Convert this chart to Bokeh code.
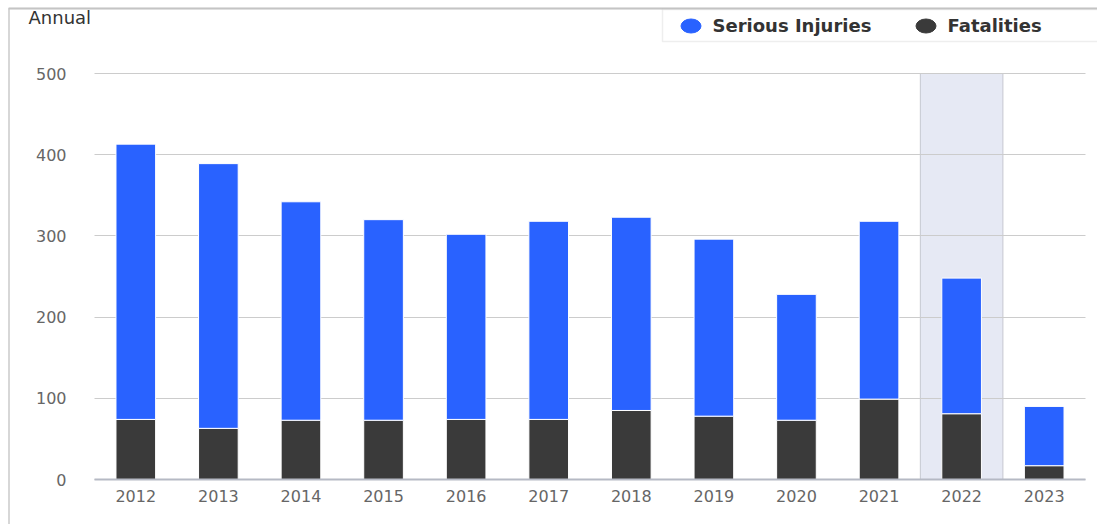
from bokeh.plotting import figure
from bokeh.models import (Range1d, Legend, LegendItem, BoxAnnotation, Label, ColumnDataSource,
                          LinearAxis, FixedTicker, Grid)
from bokeh.embed import file_html
from bokeh.resources import INLINE

years = ["2012", "2013", "2014", "2015", "2016", "2017", "2018", "2019", "2020", "2021", "2022", "2023"]
fatalities = [74, 63, 73, 73, 74, 74, 85, 78, 73, 99, 81, 17]
serious_injuries = [339, 326, 269, 247, 228, 244, 238, 218, 155, 219, 167, 73]
highlight_year = "2022"
y_max = 500
y_ticks = [0, 100, 200, 300, 400, 500]

BLUE = "#2962ff"
DARK = "#3a3a3a"
FONT = "DejaVu Sans"

W, H = 1097, 524
PL, PR, PT, PB = 94, 1085, 73, 479          # plot area in canvas pixels
n = len(years)
px_per_cat = (PR - PL) / n
px_per_unit = (PB - PT) / y_max
x_range = Range1d(-PL / px_per_cat, n + (W - PR) / px_per_cat)
y_range = Range1d(-(H - PB) / px_per_unit, y_max + PT / px_per_unit)

p = figure(x_range=x_range, y_range=y_range, frame_width=W, frame_height=H,
           min_border=0, x_axis_location=None, y_axis_location=None,
           output_backend="svg", toolbar_location=None, outline_line_color=None)
p.xgrid.visible = False
p.ygrid.visible = False

xpos = [i + 0.5 for i in range(n)]

# highlight band
hi = years.index(highlight_year)
p.vbar(x=[xpos[hi]], top=[y_max], bottom=0, width=1.0,
       fill_color="#e6e9f4", line_color="#c6c8d0", line_width=1, level="image")

src = ColumnDataSource(dict(x=xpos, year=years, Fatalities=fatalities, Serious=serious_injuries))
p.vbar_stack(["Fatalities", "Serious"], x="x", width=0.48, source=src,
             color=[DARK, BLUE], line_color="white", line_width=1)

grid = Grid(dimension=1, ticker=FixedTicker(ticks=y_ticks), cross_bounds=(0, n),
            grid_line_color="#cccccc", grid_line_width=1)
p.add_layout(grid, "center")

yaxis = LinearAxis(fixed_location=0, ticker=FixedTicker(ticks=y_ticks),
                   axis_line_color=None, major_tick_line_color=None, minor_tick_line_color=None,
                   major_tick_in=0, major_tick_out=0, major_label_standoff=28,
                   major_label_text_font=FONT, major_label_text_font_size="16px",
                   major_label_text_color="#666666")
p.add_layout(yaxis, "left")

xaxis = LinearAxis(fixed_location=0, ticker=FixedTicker(ticks=xpos), bounds=(0, n),
                   major_label_overrides={x: y for x, y in zip(xpos, years)},
                   axis_line_color="#b5b9c4", axis_line_width=2,
                   major_tick_line_color=None, minor_tick_line_color=None,
                   major_tick_in=0, major_tick_out=0, major_label_standoff=10,
                   major_label_text_font=FONT, major_label_text_font_size="16px",
                   major_label_text_color="#666666")
p.add_layout(xaxis, "below")

# outer border (screen units relative to frame bottom-left)
p.add_layout(BoxAnnotation(left=8.5, right=W + 50, top=H - 8, bottom=-50,
                           left_units="screen", right_units="screen",
                           top_units="screen", bottom_units="screen",
                           fill_alpha=0, line_color="#7a7a7a", line_width=2))
# legend box
p.add_layout(BoxAnnotation(left=662, right=W + 50, top=H - 9, bottom=H - 41,
                           left_units="screen", right_units="screen",
                           top_units="screen", bottom_units="screen",
                           fill_color="white", fill_alpha=1, line_color="#c8c8c8", line_width=1.5))
# re-draw top border line over legend box
p.add_layout(BoxAnnotation(left=8, right=W + 50, top=H - 8, bottom=H - 8,
                           left_units="screen", right_units="screen",
                           top_units="screen", bottom_units="screen",
                           fill_alpha=0, line_color="#999999", line_width=2))

p.add_layout(Label(x=28, y=H - 17, x_units="screen", y_units="screen", text="Annual",
                   text_font=FONT, text_font_size="18px", text_color="#333333",
                   text_baseline="middle", text_align="left"))

nan = float("nan")
r_inj = p.ellipse(x=[nan], y=[nan], width=20, height=14, width_units="screen", height_units="screen",
                  fill_color=BLUE, line_color=BLUE)
r_fat = p.ellipse(x=[nan], y=[nan], width=20, height=14, width_units="screen", height_units="screen",
                  fill_color=DARK, line_color=DARK)
legend = Legend(items=[LegendItem(label="Serious Injuries", renderers=[r_inj]),
                       LegendItem(label="Fatalities", renderers=[r_fat])],
                orientation="horizontal", location=(677.5, H - 37.5),
                glyph_width=25, glyph_height=25, padding=0, margin=0,
                label_standoff=10, spacing=5, label_width=195,
                border_line_color=None, background_fill_alpha=0,
                label_text_font=FONT, label_text_font_size="18px",
                label_text_font_style="bold", label_text_color="#333333")
p.add_layout(legend)

open("out.html", "w").write(file_html(p, INLINE))
